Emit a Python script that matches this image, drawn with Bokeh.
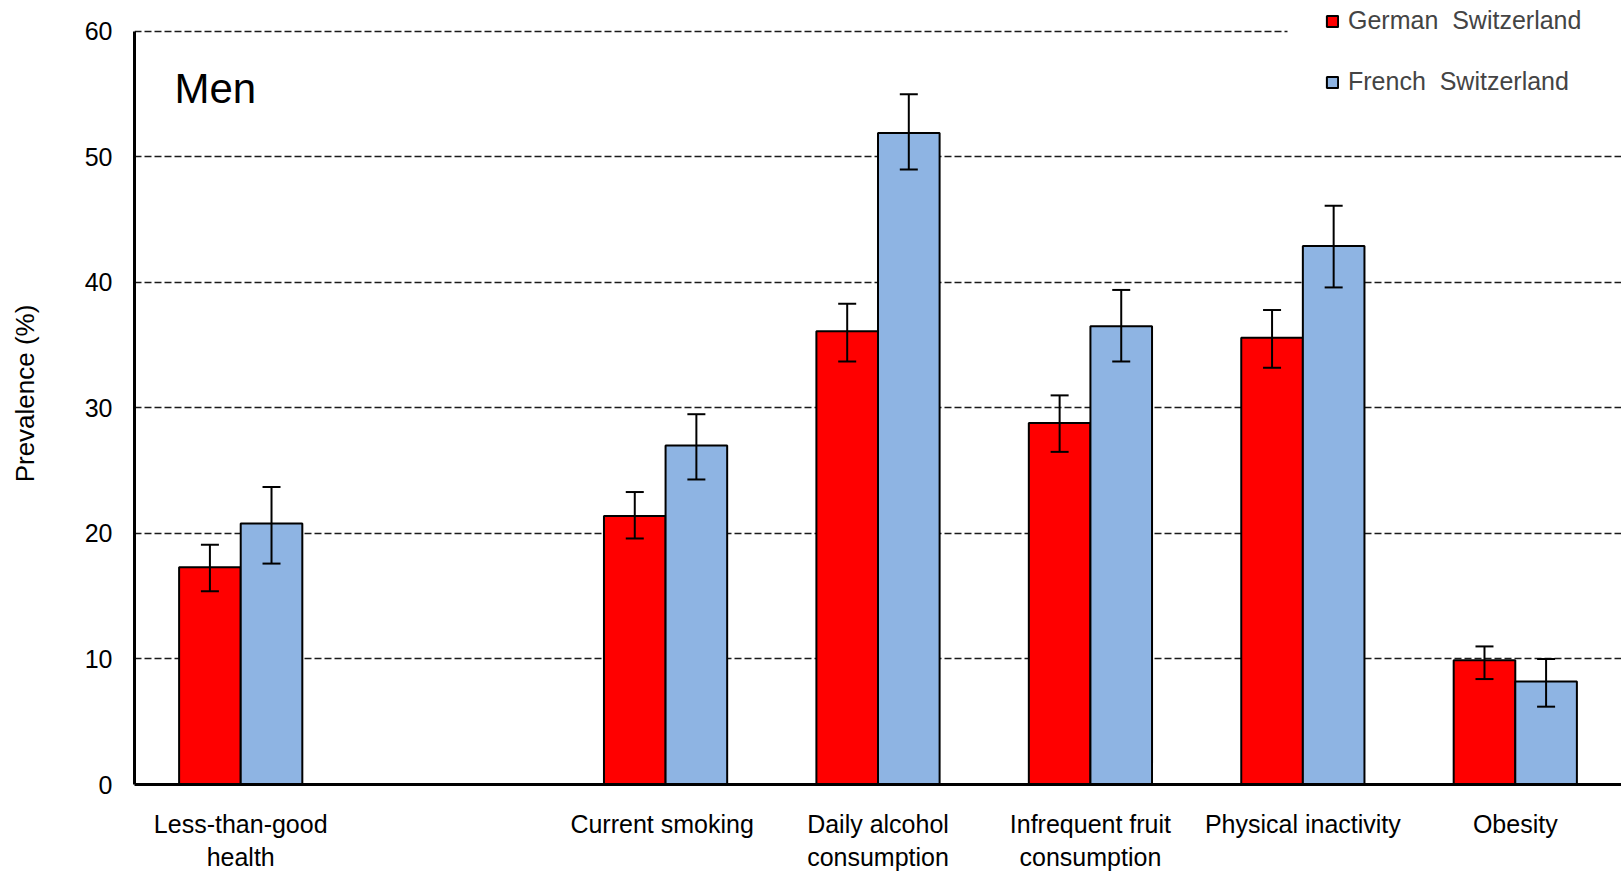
from bokeh.plotting import figure
from bokeh.models import (ColumnDataSource, FactorRange, Whisker, Legend, LegendItem,
                          Label, FixedTicker, TeeHead, BoxAnnotation)
from bokeh.transform import dodge
from bokeh.embed import file_html
from bokeh.resources import INLINE

# ---- data ----
factors = ["Less-than-good\nhealth", " ", "Current  smoking", "Daily alcohol\nconsumption",
           "Infrequent fruit\nconsumption", "Physical inactivity", "Obesity"]
categories = ["Less-than-good\nhealth", "Current  smoking", "Daily alcohol\nconsumption",
              "Infrequent fruit\nconsumption", "Physical inactivity", "Obesity"]
german = [17.3, 21.4, 36.1, 28.8, 35.6, 9.9]
german_lo = [15.4, 19.6, 33.7, 26.5, 33.2, 8.4]
german_hi = [19.1, 23.3, 38.3, 31.0, 37.8, 11.0]
french = [20.8, 27.0, 51.9, 36.5, 42.9, 8.2]
french_lo = [17.6, 24.3, 49.0, 33.7, 39.6, 6.2]
french_hi = [23.7, 29.5, 55.0, 39.4, 46.1, 10.0]
y_ticks = [0, 10, 20, 30, 40, 50, 60]

src = ColumnDataSource(dict(cat=categories, g=german, glo=german_lo, ghi=german_hi,
                            f=french, flo=french_lo, fhi=french_hi))

FONT = "Liberation Sans"
RED = "#FF0000"
BLUE = "#8EB4E3"
BW = 0.29

p = figure(x_range=FactorRange(*factors, range_padding=0), y_range=(0, 62.3),
           width=1621, height=874, output_backend="svg", toolbar_location=None,
           min_border_left=134, min_border_top=2, min_border_right=0, min_border_bottom=88)
p.outline_line_color = None
p.background_fill_color = "white"

rg = p.vbar(x=dodge("cat", -BW / 2, range=p.x_range), top="g", width=BW, source=src,
            fill_color=RED, line_color="black", line_width=2)
rf = p.vbar(x=dodge("cat", BW / 2, range=p.x_range), top="f", width=BW, source=src,
            fill_color=BLUE, line_color="black", line_width=2)

for off, lo, hi in [(-BW / 2, "glo", "ghi"), (BW / 2, "flo", "fhi")]:
    w = Whisker(base=dodge("cat", off, range=p.x_range), lower=lo, upper=hi, source=src,
                line_color="black", line_width=2, level="overlay",
                upper_head=TeeHead(size=18, line_width=2, line_color="black"),
                lower_head=TeeHead(size=18, line_width=2, line_color="black"))
    p.add_layout(w)

# grid
p.xgrid.grid_line_color = None
p.ygrid.grid_line_color = "#1a1a1a"
p.ygrid.grid_line_dash = "7 3"
p.ygrid.grid_line_width = 1.6

# axes
p.yaxis.ticker = FixedTicker(ticks=y_ticks)
p.yaxis.bounds = (0, 60)
p.yaxis.axis_line_width = 3
p.yaxis.axis_line_color = "black"
p.yaxis.major_tick_line_color = None
p.yaxis.major_tick_out = 0
p.yaxis.major_tick_in = 0
p.yaxis.minor_tick_line_color = None
p.yaxis.minor_tick_out = 0
p.yaxis.major_label_standoff = 22
p.yaxis.major_label_text_font = FONT
p.yaxis.major_label_text_font_size = "25px"
p.yaxis.major_label_text_color = "black"
p.yaxis.axis_label = "Prevalence (%)"
p.yaxis.axis_label_text_font = FONT
p.yaxis.axis_label_text_font_style = "normal"
p.yaxis.axis_label_text_font_size = "26px"
p.yaxis.axis_label_text_color = "black"
p.yaxis.axis_label_standoff = 42

p.xaxis.axis_line_width = 3
p.xaxis.axis_line_color = "black"
p.xaxis.major_tick_line_color = None
p.xaxis.major_tick_out = 0
p.xaxis.major_tick_in = 0
p.xaxis.minor_tick_line_color = None
p.xaxis.minor_tick_out = 0
p.xaxis.major_label_standoff = 25
p.xaxis.major_label_text_font = FONT
p.xaxis.major_label_text_font_size = "25px"
p.xaxis.major_label_text_color = "black"
p.xaxis.major_label_orientation = "horizontal"

# "Men" panel title
p.add_layout(Label(x=40, y=696, x_units="screen", y_units="screen", text="Men",
                   text_font=FONT, text_font_size="42px", text_color="black",
                   text_baseline="middle"))

# legend background area (covers the top gridline like the reference)
p.add_layout(BoxAnnotation(left=1153, left_units="screen", bottom=59,
                           fill_color="white", fill_alpha=1.0, line_color=None))

legend = Legend(items=[LegendItem(label="German  Switzerland", renderers=[rg]),
                       LegendItem(label="French  Switzerland", renderers=[rf])],
                location=(1191, 688), orientation="vertical",
                glyph_width=14, glyph_height=14, label_height=24, spacing=32,
                padding=3, margin=0, label_standoff=9,
                label_text_font=FONT, label_text_font_size="25px",
                border_line_color=None, background_fill_color="white",
                background_fill_alpha=1.0)
p.add_layout(legend, "center")

open("out.html", "w").write(file_html(p, INLINE))
